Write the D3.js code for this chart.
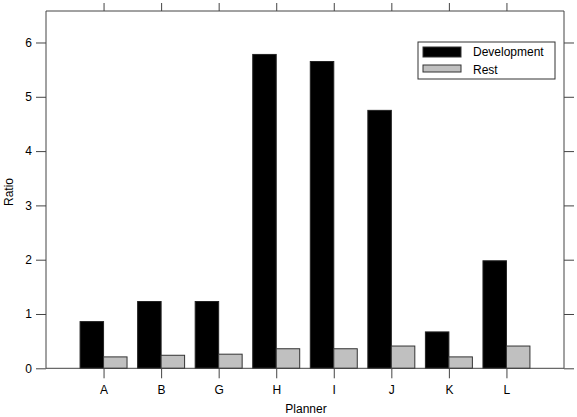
<!doctype html>
<html>
<head>
<meta charset="utf8">
<script src="https://d3js.org/d3.v7.min.js"></script>
<style>
  body { margin: 0; background: #fff; }
  text { font-family: "Liberation Sans", Arial, sans-serif; fill: #000; }
</style>
</head>
<body>
<svg width="577" height="417"></svg>
<script>
    // data
    var planners = ["A", "B", "G", "H", "I", "J", "K", "L"];
    var development = [0.86, 1.23, 1.23, 5.78, 5.65, 4.75, 0.67, 1.98];
    var rest = [0.21, 0.24, 0.26, 0.36, 0.36, 0.41, 0.21, 0.41];
    var yTicks = [0, 1, 2, 3, 4, 5, 6];

    var svg = d3.select("svg");
    var frameColor = "#444";

    var x = d3.scaleLinear().domain([0, planners.length + 1]).range([46, 564]);
    var y = d3.scaleLinear().domain([0, 6.58]).range([368.3, 11]);
    var bw = x(0.408) - x(0);

    var g = svg.append("g");

    // development bars (left of centre)
    g.selectAll(".dev")
     .data(development)
     .enter().append("rect")
     .attr("class", "dev")
     .attr("x", function(d, i) { return x(i + 1) - bw; })
     .attr("y", function(d) { return y(d); })
     .attr("width", bw)
     .attr("height", function(d) { return y(0) - y(d); })
     .attr("fill", "#000")
     .attr("stroke", "#222")
     .attr("stroke-width", 1);

    // rest bars (right of centre)
    g.selectAll(".rest")
     .data(rest)
     .enter().append("rect")
     .attr("class", "rest")
     .attr("x", function(d, i) { return x(i + 1); })
     .attr("y", function(d) { return y(d); })
     .attr("width", bw)
     .attr("height", function(d) { return y(0) - y(d); })
     .attr("fill", "#c0c0c0")
     .attr("stroke", "#333")
     .attr("stroke-width", 1);

    // baseline at zero
    g.append("line")
     .attr("x1", x(0)).attr("x2", x(planners.length + 1))
     .attr("y1", y(0)).attr("y2", y(0))
     .attr("stroke", frameColor);

    // frame: left, top, right
    g.append("path")
     .attr("d", "M" + x(0) + "," + y(0) + "V" + y.range()[1] + "H" + x(planners.length + 1) + "V" + y(0))
     .attr("fill", "none")
     .attr("stroke", frameColor);

    // left axis
    var leftAxis = g.append("g").attr("transform", "translate(" + x(0) + ",0)")
        .call(d3.axisLeft(y).tickValues(yTicks).tickSize(10).tickPadding(4).tickFormat(d3.format("d")));
    leftAxis.select(".domain").remove();
    leftAxis.selectAll("line").attr("stroke", frameColor);
    leftAxis.selectAll("text").style("font-size", "12px").attr("fill", "#000");

    // right axis ticks
    var rightAxis = g.append("g").attr("transform", "translate(" + x(planners.length + 1) + ",0)")
        .call(d3.axisRight(y).tickValues(yTicks).tickSize(10).tickFormat(""));
    rightAxis.select(".domain").remove();
    rightAxis.selectAll("line").attr("stroke", frameColor);

    // bottom axis
    var cats = planners.map(function(d, i) { return i + 1; });
    var bottomAxis = g.append("g").attr("transform", "translate(0," + y(0) + ")")
        .call(d3.axisBottom(x).tickValues(cats).tickSize(10).tickPadding(7)
              .tickFormat(function(d) { return planners[d - 1]; }));
    bottomAxis.select(".domain").remove();
    bottomAxis.selectAll("line").attr("stroke", frameColor);
    bottomAxis.selectAll("text").style("font-size", "12px").attr("fill", "#000");

    // top ticks
    var topAxis = g.append("g").attr("transform", "translate(0," + y.range()[1] + ")")
        .call(d3.axisTop(x).tickValues(cats).tickSize(8).tickFormat(""));
    topAxis.select(".domain").remove();
    topAxis.selectAll("line").attr("stroke", frameColor);

    // axis titles
    svg.append("text")
       .attr("x", 306).attr("y", 413)
       .attr("text-anchor", "middle")
       .style("font-size", "12px")
       .text("Planner");

    svg.append("text")
       .attr("transform", "translate(13,192) rotate(-90)")
       .attr("text-anchor", "middle")
       .style("font-size", "12px")
       .text("Ratio");

    // legend
    var legend = svg.append("g");
    legend.append("rect")
       .attr("x", 418).attr("y", 42).attr("width", 137).attr("height", 37)
       .attr("fill", "#fff").attr("stroke", "#333");
    var series = [["Development", "#000"], ["Rest", "#c0c0c0"]];
    series.forEach(function(s, i) {
        var yy = i === 0 ? 47 : 65;
        legend.append("rect")
           .attr("x", 423).attr("y", yy).attr("width", 38).attr("height", i === 0 ? 10 : 7)
           .attr("fill", s[1]).attr("stroke", "#333");
        legend.append("text")
           .attr("x", 473).attr("y", yy + 9)
           .style("font-size", "12px")
           .text(s[0]);
    });
</script>
</body>
</html>
